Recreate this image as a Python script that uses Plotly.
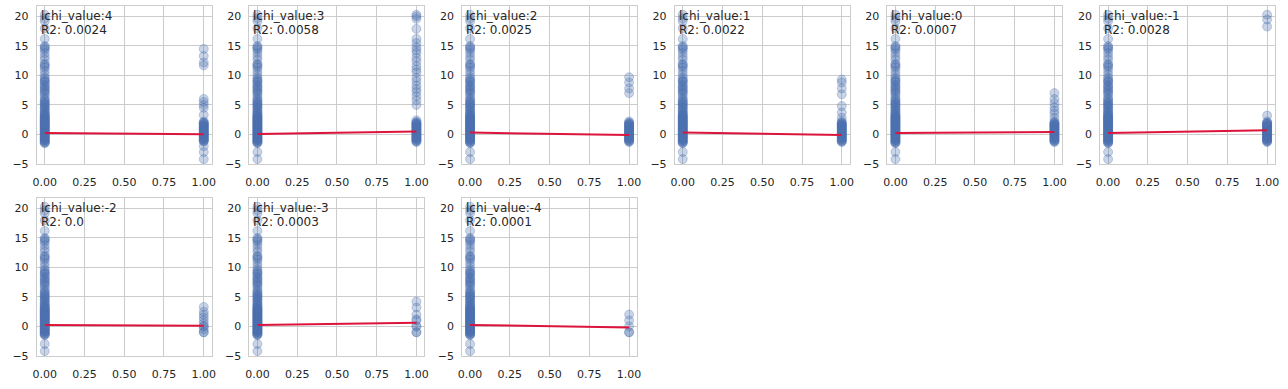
import plotly.graph_objects as go

W, H = 1288, 389

lchi_values = [4, 3, 2, 1, 0, -1, -2, -3, -4]
r2_labels = ["0.0024", "0.0058", "0.0025", "0.0022", "0.0007", "0.0028", "0.0", "0.0003", "0.0001"]

base_y0 = [-1.5, -1.3, -1.1, -0.9, -0.7, -0.5, -0.3, -0.1, 0.1, 0.3, 0.5, 0.7, 0.9, 1.1,
           1.3, 1.5, 1.7, 1.9, 2.1, 2.3, 2.5, 2.7, 2.9, 3.1, 3.4, 3.7, 4.0, 4.3, 4.6, 4.9,
           5.2, 5.5, 5.8, 6.3, 6.8, 7.0, 7.3, 7.7, 8.0, 8.4, 8.8, 9.1, 9.4, 9.7, 10.2, 10.8,
           11.3, 11.6, 12.0, 12.7, 13.2, 13.8, 14.3, 14.6, 15.0, 16.2, 18.0, 19.2, 19.7, 20.3]
dense_y0 = [-1.4, -1.2, -1.0, -0.8, -0.6, -0.4, -0.2, 0.0, 0.2, 0.4, 0.6, 0.8, 1.0, 1.2,
            1.4, 1.6, 1.8, 2.0, 2.2, 2.4, 2.6, 2.8, 3.0, 3.2, 3.5, 3.9, 4.5, 5.0, 5.4, 6.0,
            7.5, 8.2, 9.0, 11.8, 14.8]
low_extra_y0 = [-3.0, -4.2]

low_y1 = [-1.3, -1.1, -0.9, -0.7, -0.5, -0.3, -0.1, 0.1, 0.3, 0.5, 0.7, 0.9, 1.1, 1.3,
          1.5, 1.7, 1.9, 2.2]
dense_y1 = [-1.2, -1.0, -0.8, -0.6, -0.4, -0.2, 0.0, 0.2, 0.4, 0.6, 0.8, 1.0, 1.2, 1.4,
            1.6, 1.8, 2.0]

y1_p1 = [-4.2, -3.0, -2.0, -1.2, -1.0, -0.8, -0.6, -0.4, -0.2, 0.0, 0.2, 0.4, 0.6, 0.8,
         1.0, 1.2, 1.4, 1.6, 1.8, 2.0, 2.2, 3.3, 4.5, 5.0, 5.5, 6.0, 11.7, 12.2, 13.3, 14.5]
y1_p2 = [-1.3, -1.1, -0.9, -0.7, -0.5, -0.3, -0.1, 0.1, 0.3, 0.5, 0.7, 0.9, 1.1, 1.3,
         1.5, 1.7, 1.9, 2.1, 2.4, 5.0, 5.8, 6.5, 7.2, 7.7, 8.3, 9.0, 9.6, 10.5, 11.0,
         11.6, 12.4, 13.0, 13.8, 14.3, 14.8, 15.5, 16.2, 17.9, 19.6, 20.0, 20.3]
y1_p3 = [7.0, 7.8, 8.8, 9.7]
y1_p4 = [2.8, 3.7, 4.8, 6.8, 7.8, 8.8, 9.3]
y1_p5 = [2.8, 3.5, 4.0, 4.6, 5.3, 6.0, 7.0]
y1_p6 = [3.2, 18.3, 19.5, 20.3]
y1_p7 = [-1.0, -1.0, -0.5, 0.0, 0.0, 0.5, 1.0, 1.5, 2.0, 2.5, 3.3]
y1_p8 = [-1.0, -1.0, 0.0, 0.0, 1.0, 1.2, 2.0, 3.2, 4.2]
y1_p9 = [-1.0, -1.0, 0.0, 1.0, 2.0]

y0_sets = [base_y0 + dense_y0] + [base_y0 + dense_y0 + low_extra_y0] * 8
y1_sets = [y1_p1 + dense_y1, y1_p2 + dense_y1,
           low_y1 + dense_y1 + y1_p3, low_y1 + dense_y1 + y1_p4,
           low_y1 + dense_y1 + y1_p5, low_y1 + dense_y1 + y1_p6,
           y1_p7, y1_p8, y1_p9]

line_start = [0.25, 0.05, 0.3, 0.3, 0.25, 0.25, 0.25, 0.25, 0.25]
line_end = [0.0, 0.5, -0.1, -0.1, 0.4, 0.7, 0.1, 0.6, -0.2]

x_ticks = [0, 0.25, 0.5, 0.75, 1.0]
x_ticklabels = ["0.00", "0.25", "0.50", "0.75", "1.00"]
y_ticks = [-5, 0, 5, 10, 15, 20]

col_left_px = [33, 247, 461, 675, 889, 1103]
panel_w_px = 176
row_top_px = [6, 201]
row_bot_px = [167, 362]

FONT = "DejaVu Sans"
TXT = "#262626"
GRID = "#cccccc"
BLUE_FILL = "rgba(76,114,176,0.3)"
BLUE_EDGE = "rgba(76,114,176,0.3)"
RED = "#dc143c"

fig = go.Figure()
annotations = []
layout_axes = {}

for i, lv in enumerate(lchi_values):
    r, c = divmod(i, 6)
    idx = i + 1
    xa = "x" if idx == 1 else f"x{idx}"
    ya = "y" if idx == 1 else f"y{idx}"
    xkey = "xaxis" if idx == 1 else f"xaxis{idx}"
    ykey = "yaxis" if idx == 1 else f"yaxis{idx}"

    y0 = y0_sets[i]
    y1 = y1_sets[i]
    xs = [0.0] * len(y0) + [1.0] * len(y1)
    ys = y0 + y1
    fig.add_trace(go.Scatter(
        x=xs, y=ys, mode="markers", xaxis=xa, yaxis=ya, showlegend=False,
        marker=dict(size=9, color=BLUE_FILL, line=dict(color=BLUE_EDGE, width=1)),
        hoverinfo="skip"))
    fig.add_trace(go.Scatter(
        x=[0.0, 1.0], y=[line_start[i], line_end[i]], mode="lines",
        xaxis=xa, yaxis=ya, showlegend=False,
        line=dict(color=RED, width=2), hoverinfo="skip"))

    l = col_left_px[c] / W
    rr = (col_left_px[c] + panel_w_px) / W
    top = 1 - row_top_px[r] / H
    bot = 1 - row_bot_px[r] / H

    common = dict(showgrid=True, gridcolor=GRID, gridwidth=1, zeroline=False,
                  showline=True, linecolor=GRID, linewidth=1, mirror=True,
                  tickfont=dict(family=FONT, size=11, color=TXT), ticks="")
    layout_axes[xkey] = dict(common, domain=[l, rr], anchor=ya, range=[-0.05, 1.05],
                             tickmode="array", tickvals=x_ticks, ticktext=x_ticklabels,
                             ticklabelstandoff=7)
    layout_axes[ykey] = dict(common, domain=[bot, top], anchor=xa, range=[-5.1, 21.8],
                             tickmode="array", tickvals=y_ticks, ticklabelstandoff=5)

    tx = (col_left_px[c] + 2) / W
    annotations.append(dict(text=f"lchi_value:{lv}", xref="paper", yref="paper",
                            x=tx, y=1 - (row_top_px[r] + 10) / H, xanchor="left",
                            yanchor="middle", showarrow=False,
                            font=dict(family=FONT, size=12, color=TXT)))
    annotations.append(dict(text=f"R2: {r2_labels[i]}", xref="paper", yref="paper",
                            x=tx, y=1 - (row_top_px[r] + 24) / H, xanchor="left",
                            yanchor="middle", showarrow=False,
                            font=dict(family=FONT, size=12, color=TXT)))

fig.update_layout(width=W, height=H, margin=dict(l=0, r=0, t=0, b=0),
                  paper_bgcolor="white", plot_bgcolor="white",
                  font=dict(family=FONT, color=TXT), annotations=annotations,
                  **layout_axes)

fig.write_html("out.html")
